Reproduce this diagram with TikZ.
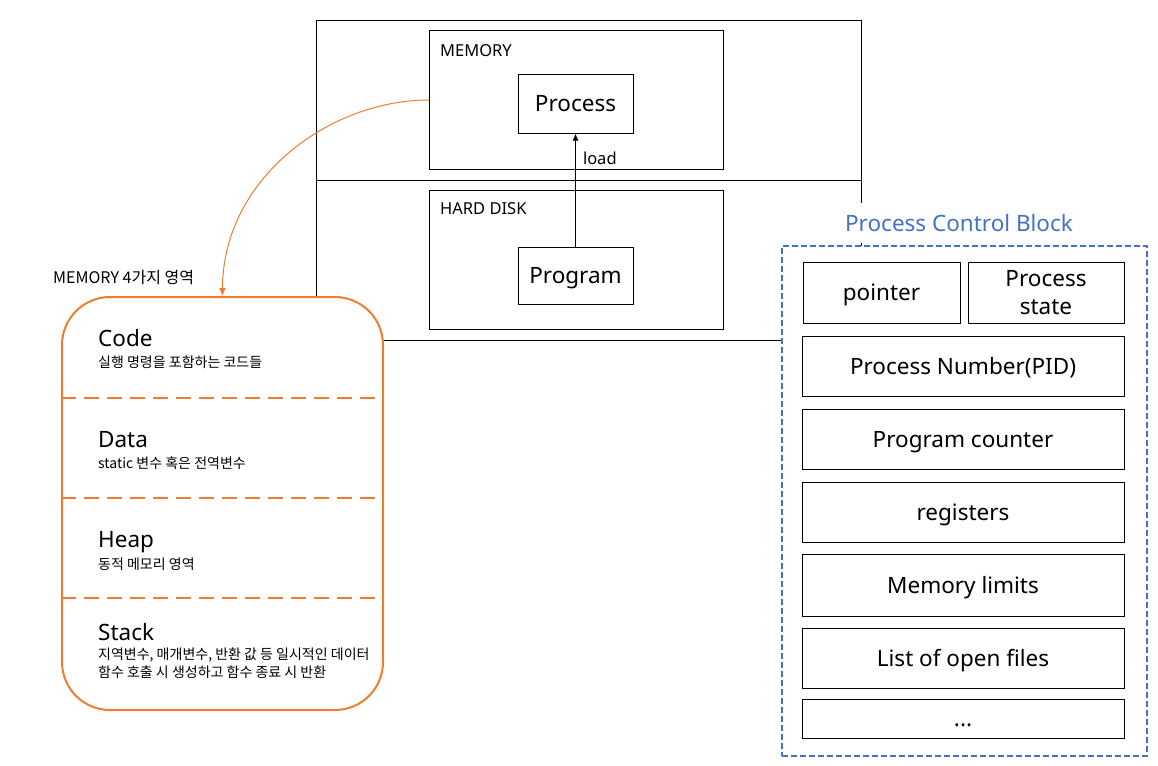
\documentclass[tikz,border=0pt]{standalone}
\usepackage{fontspec}
\setmainfont{Noto Sans}
\newfontfamily\kr{Noto Sans CJK KR}
\usetikzlibrary{arrows.meta}
\definecolor{memorange}{HTML}{ED7D31}
\definecolor{pcbblue}{HTML}{4472C4}
\begin{document}
\begin{tikzpicture}[
		x=1pt,y=-1pt,
		every node/.style={inner sep=0pt},
		big/.style={font=\fontsize{22.5}{28}\selectfont},
		small/.style={font=\fontsize{16.5}{20}\selectfont},
		note/.style={font=\kr\fontsize{14}{18}\selectfont,anchor=base west},
		zone/.style={draw,line width=1pt,anchor=north west},
		box/.style={draw,line width=1pt,big,align=center,text height=16pt,text depth=0pt},
		twobox/.style={draw,line width=1pt,big,align=center},
		head/.style={big,anchor=base west},
		arr/.style={-{Latex[length=7pt,width=6pt]},line width=1pt},
		curve/.style={-{Latex[length=8pt,width=7pt]},draw=memorange,line width=1pt},
		sep/.style={draw=memorange,line width=2pt,dash pattern=on 15pt off 8pt}
		]
		\useasboundingbox (0,0) rectangle (1158,765);
		% computer: memory and hard disk
		\node[zone,minimum width=545pt,minimum height=160pt] (memzone) at (316,20) {};
		\node[zone,minimum width=545pt,minimum height=160pt] (diskzone) at (316,180) {};
		\node[zone,minimum width=294pt,minimum height=139pt] (mem) at (429,30) {};
		\node[zone,minimum width=294pt,minimum height=139pt] (disk) at (429,190) {};
		\node[small,anchor=base west] (memlabel) at (440,57) {MEMORY};
		\node[small,anchor=base west] (disklabel) at (440,214) {HARD DISK};
		\node[box,minimum width=115pt,minimum height=58pt] (proc) at (575.5,104) {Process};
		\node[box,minimum width=115pt,minimum height=57pt] (prog) at (575.5,275.5) {Program};
		\draw[arr] (prog.north) to node[small,pos=0.78,anchor=west,xshift=7pt] {load} (proc.south);
		% memory regions
		\node[draw=memorange,line width=2pt,rounded corners=48pt,fill=white,
			minimum width=321pt,minimum height=413pt] (regions) at (222.5,503.5) {};
		\node[font=\kr\fontsize{16}{20}\selectfont,anchor=base west] (regtitle) at (53,283) {MEMORY 4가지 영역};
		\draw[curve] (mem.west) .. controls +(-100,0) and +(0,-117) .. (regions.north);
		\draw[sep] (regions.west |- 0,398) -- (regions.east |- 0,398);
		\draw[sep] (regions.west |- 0,498) -- (regions.east |- 0,498);
		\draw[sep] (regions.west |- 0,598) -- (regions.east |- 0,598);
		\node[head] (code) at (98,346) {Code};
		\node[note] at (98,367) {실행 명령을 포함하는 코드들};
		\node[head] (data) at (98,447) {Data};
		\node[note] at (98,468) {static 변수 혹은 전역변수};
		\node[head] (heap) at (98,547) {Heap};
		\node[note] at (98,569) {동적 메모리 영역};
		\node[head] (stack) at (98,640) {Stack};
		\node[note] at (98,659) {지역변수, 매개변수, 반환 값 등 일시적인 데이터};
		\node[note] at (98,677) {함수 호출 시 생성하고 함수 종료 시 반환};
		% process control block
		\node[draw=pcbblue,line width=1.6pt,dash pattern=on 6pt off 3pt,fill=white,anchor=north west,
			minimum width=365pt,minimum height=510pt] (pcb) at (781,245) {};
		\node[big,text=pcbblue,fill=white,inner xsep=4pt,minimum height=40pt] (pcbtitle) at (959,223) {Process Control Block};
		\node[box,minimum width=157pt,minimum height=61pt] (pointer) at (881.5,292.5) {pointer};
		\node[twobox,minimum width=156pt,minimum height=61pt] (state) at (1046,292.5) {Process\\state};
		\node[box,minimum width=322pt,minimum height=60pt] (pid) at (963,366) {Process Number(PID)};
		\node[box,minimum width=322pt,minimum height=60pt] (pc) at (963,439) {Program counter};
		\node[box,minimum width=322pt,minimum height=60pt] (regs) at (963,512) {registers};
		\node[box,minimum width=322pt,minimum height=62pt] (limits) at (963,585) {Memory limits};
		\node[box,minimum width=322pt,minimum height=60pt] (files) at (963,658) {List of open files};
		\node[box,minimum width=322pt,minimum height=39pt] (etc) at (963,718.5) {...};
	\end{tikzpicture}
\end{document}
